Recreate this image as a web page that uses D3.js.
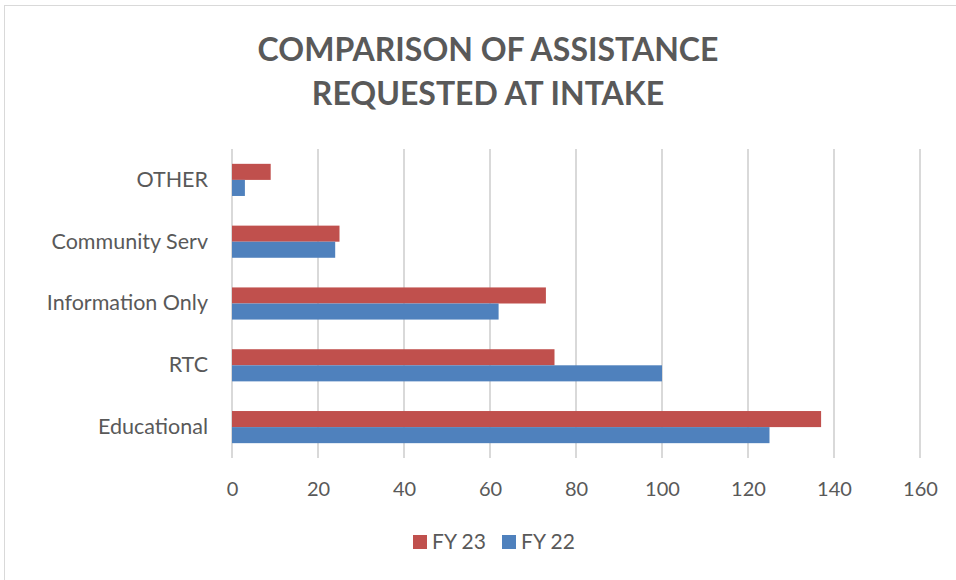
<!DOCTYPE html>
<html><head><meta charset="utf-8">
<script src="https://cdn.jsdelivr.net/npm/d3@7"></script>
<style>body{margin:0;background:#fff;}svg{display:block;font-family:Lato,"Open Sans",sans-serif;}</style>
</head><body>
<svg id="chart" width="956" height="580"></svg>
<script>
const categories = ["OTHER", "Community Serv", "Information Only", "RTC", "Educational"];
const seriesNames = ["FY 23", "FY 22"];
const fy23 = [9, 25, 73, 75, 137];
const fy22 = [3, 24, 62, 100, 125];
const xTicks = [0, 20, 40, 60, 80, 100, 120, 140, 160];
const titleLines = ["COMPARISON OF ASSISTANCE", "REQUESTED AT INTAKE"];
const colors = {"FY 23": "#C0504D", "FY 22": "#4F81BD"};

const svg = d3.select("#chart");
const textColor = "#595959";

// border
svg.append("rect").attr("x", 4.5).attr("y", 5.5).attr("width", 960).attr("height", 600)
  .attr("fill", "none").attr("stroke", "#d9d9d9").attr("stroke-width", 1);

const m = {left: 232, right: 920, top: 149, bottom: 458};
const x = d3.scaleLinear().domain([0, 160]).range([m.left, m.right]);
const y = d3.scaleBand().domain(categories).range([m.top, m.bottom]).paddingInner(0.48).paddingOuter(0.24);
const ys = d3.scaleBand().domain(seriesNames).range([0, y.bandwidth()]);

// gridlines
svg.append("g").selectAll("line").data(xTicks).join("line")
  .attr("x1", d => x(d)).attr("x2", d => x(d)).attr("y1", m.top).attr("y2", m.bottom)
  .attr("stroke", "#d9d9d9").attr("stroke-width", 2);

// title
svg.append("g").selectAll("text").data(titleLines).join("text")
  .attr("x", 488).attr("y", (d, i) => 61 + i * 44)
  .attr("text-anchor", "middle").attr("font-size", 32).attr("font-weight", "bold")
  .attr("fill", textColor).text(d => d);

// bars
const rows = categories.map((c, i) => ({cat: c, vals: [{s: "FY 23", v: fy23[i]}, {s: "FY 22", v: fy22[i]}]}));
const g = svg.append("g").selectAll("g").data(rows).join("g")
  .attr("transform", d => `translate(0,${y(d.cat)})`);
g.selectAll("rect").data(d => d.vals).join("rect")
  .attr("x", x(0)).attr("y", d => ys(d.s)).attr("width", d => x(d.v) - x(0))
  .attr("height", ys.bandwidth()).attr("fill", d => colors[d.s]);

// y axis labels
const yAxis = d3.axisLeft(y).tickSize(0).tickPadding(24);
const ya = svg.append("g").attr("transform", `translate(${m.left},0)`).call(yAxis);
ya.select(".domain").remove();
ya.selectAll("text").attr("font-size", 21.5).attr("fill", textColor).attr("font-family", "Lato, sans-serif");

// x axis labels
const xAxis = d3.axisBottom(x).tickValues(xTicks).tickSize(0).tickPadding(24);
const xa = svg.append("g").attr("transform", `translate(0,${m.bottom})`).call(xAxis);
xa.select(".domain").remove();
xa.selectAll("text").attr("font-size", 20).attr("fill", textColor).attr("font-family", "Lato, sans-serif");

// legend
const legX = [413, 502];
const leg = svg.append("g").selectAll("g").data(seriesNames).join("g")
  .attr("transform", (d, i) => `translate(${legX[i]},535)`);
leg.append("rect").attr("width", 14).attr("height", 14).attr("fill", d => colors[d]);
leg.append("text").attr("x", 19).attr("y", 14).attr("font-size", 21).attr("font-family", "Lato, sans-serif")
  .attr("fill", textColor).text(d => d);
</script>
</body></html>
